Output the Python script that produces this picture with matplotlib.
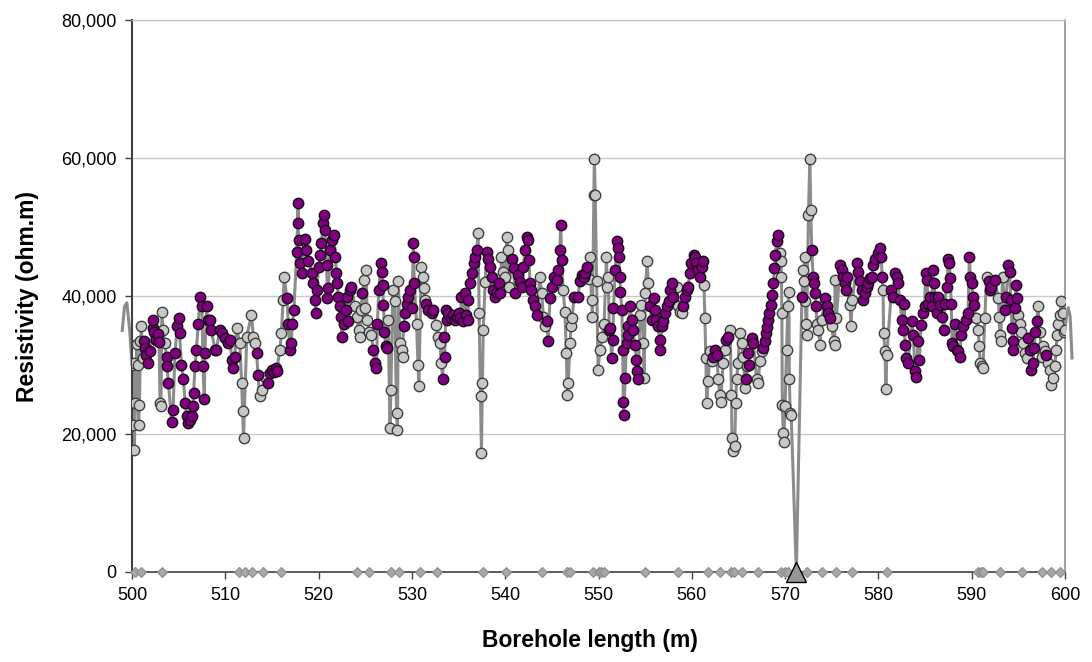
import matplotlib
matplotlib.use("Agg")
import matplotlib.pyplot as plt
import numpy as np

plt.rcParams['font.family'] = ['Liberation Sans', 'DejaVu Sans']

# depth (m), resistivity (thousand ohm.m), class (1 = purple highlighted)
depth = [
 500.0,500.1,500.2,500.25,500.35,500.5,500.6,500.7,500.8,500.9,501.0,501.15,501.3,501.4,501.5,501.75,501.9,
 502.2,502.3,502.4,502.6,502.75,502.9,503.0,503.1,503.2,503.35,503.5,503.7,503.75,503.9,504.25,504.4,504.6,
 504.85,505.0,505.1,505.3,505.5,505.7,505.85,506.0,506.2,506.4,506.5,506.6,506.75,506.9,507.1,507.3,507.5,
 507.6,507.75,507.8,508.0,508.1,508.35,508.5,508.9,509.05,509.4,509.6,510.0,510.3,510.5,510.7,510.85,511.0,
 511.2,511.55,511.75,511.85,511.95,512.3,512.8,513.0,513.2,513.35,513.5,513.7,513.9,514.25,514.6,514.8,515.0,
 515.2,515.4,515.5,515.85,516.0,516.2,516.3,516.6,516.75,516.9,517.05,517.2,517.35,
 517.65,517.75,517.8,517.85,518.0,518.2,518.5,518.7,518.9,519.3,519.4,519.6,519.7,519.8,520.0,520.2,520.3,
 520.5,520.6,520.7,520.85,520.95,521.05,521.2,521.4,521.65,521.8,521.9,522.0,522.1,522.25,522.35,522.5,522.75,
 522.9,523.0,523.1,523.35,523.5,523.9,524.1,524.3,524.4,524.55,524.7,524.9,525.0,525.1,525.2,525.45,525.65,
 525.85,526.0,526.2,526.3,526.45,526.65,526.75,526.85,526.95,527.05,527.2,527.3,527.45,527.65,527.75,527.95,
 528.15,528.35,528.45,528.55,528.7,528.9,529.0,529.1,529.25,529.45,529.6,529.8,530.0,530.15,530.2,530.25,
 530.5,530.65,530.75,531.0,531.2,531.3,531.4,531.5,531.75,532.1,532.3,532.6,532.8,533.0,533.15,533.3,533.4,
 533.5,533.65,533.8,
 533.9,534.2,534.4,534.6,534.8,535.0,535.2,535.3,535.45,535.7,535.8,536.0,536.05,536.2,536.4,536.6,536.8,
 536.95,537.1,537.2,537.35,537.45,537.55,537.65,537.85,538.0,538.2,538.4,538.55,538.7,538.9,539.1,539.3,
 539.45,539.6,539.8,540.0,540.15,540.3,540.4,540.7,540.9,541.05,541.4,541.6,541.8,541.95,542.1,542.3,542.45,
 542.55,542.65,542.8,543.0,543.2,543.4,543.7,543.9,544.1,544.3,544.45,544.6,544.8,545.0,545.2,545.5,545.7,
 545.85,545.95,546.05,546.2,546.4,546.55,546.65,546.75,546.95,547.05,547.2,547.35,547.8,548.0,548.2,548.4,
 548.55,548.75,548.95,549.1,549.25,549.35,549.5,549.55,549.65,549.8,549.95,550.15,550.4,550.6,550.85,550.95,
 551.05,
 551.15,551.25,551.4,551.55,551.6,551.8,551.95,552.05,552.15,552.3,552.35,552.5,552.6,552.65,552.7,552.85,
 553.0,553.15,553.2,553.4,553.55,553.7,553.9,554.05,554.15,554.25,554.45,554.6,554.8,554.9,555.0,555.2,555.35,
 555.5,555.7,555.9,556.05,556.2,556.4,556.55,556.6,556.8,556.95,557.1,557.3,557.5,557.65,557.85,558.0,558.4,
 558.55,558.75,558.95,559.1,559.3,559.45,559.6,559.8,559.9,560.2,560.35,560.5,560.7,560.9,561.05,561.2,561.3,
 561.4,561.5,561.6,561.75,561.95,562.15,562.3,562.5,562.65,562.85,563.0,563.1,563.35,563.55,563.7,563.9,564.1,
 564.25,564.3,564.45,564.6,564.7,564.8,564.95,565.15,565.35,565.5,565.7,565.85,565.95,566.05,566.15,566.4,
 566.6,566.95,567.1,567.3,567.5,567.65,567.85,
 568.0,568.1,568.2,568.3,568.45,568.6,568.75,568.85,568.95,569.1,569.2,569.45,569.55,569.6,569.65,569.7,569.8,
 569.85,570.0,570.15,570.3,570.4,570.45,570.55,570.65,571.2,571.8,571.95,572.0,572.1,572.15,572.25,572.3,
 572.5,572.65,572.75,572.85,573.0,573.1,573.2,573.3,573.4,573.55,573.75,573.9,574.3,574.45,574.6,574.8,575.0,
 575.2,575.3,575.35,575.5,575.9,576.05,576.25,576.4,576.5,576.6,576.95,577.05,577.2,577.7,577.85,578.0,578.2,
 578.4,578.6,578.75,578.9,579.1,579.3,579.45,579.6,579.95,580.15,580.3,580.4,580.5,580.55,580.7,580.8,580.9,
 581.4,581.6,581.8,581.95,582.1,582.3,582.5,582.65,582.75,582.85,583.0,583.2,583.55,583.75,583.9,584.05,
 584.25,584.4,584.55,584.75,584.95,585.05,585.2,585.35,585.5,585.7,585.85,585.95,586.05,586.25,586.4,586.6,
 586.8,587.0,587.1,587.3,587.5,587.6,587.7,587.8,587.9,588.0,588.2,588.4,588.55,588.7,588.9,589.1,589.4,
 589.6,589.75,589.85,590.0,590.1,590.2,590.5,590.7,590.8,590.9,591.05,591.2,591.4,591.6,591.8,591.95,592.1,
 592.5,592.85,592.95,593.0,593.1,593.3,593.55,593.7,593.9,594.05,594.2,594.3,594.4,594.45,594.6,594.75,594.9,
 595.0,595.15,595.3,595.5,595.7,595.9,596.05,596.2,596.4,596.55,596.7,596.8,596.95,597.1,597.3,597.5,597.65,
 597.85,598.0,598.2,598.4,598.55,598.7,598.9,599.05,599.15,599.3,599.45,599.6,599.75,599.9,600.0,
]
resistivity_k = [
 30.0,21.3,30.3,17.7,24.5,33.0,30.0,21.3,24.2,33.4,35.6,31.0,33.5,32.4,31.5,30.3,32.0,
 35.3,36.5,34.8,33.6,34.5,33.3,24.5,24.0,37.7,35.0,33.2,31.2,29.8,27.4,21.8,23.5,31.7,
 35.6,36.8,34.6,30.0,27.9,24.5,22.6,21.6,22.0,22.6,24.0,25.9,29.8,32.2,36.0,39.9,38.5,
 29.8,25.0,31.7,38.5,36.5,36.5,35.0,32.2,32.2,35.1,34.6,33.9,33.2,33.6,30.7,29.5,31.2,
 35.3,33.2,27.4,23.3,19.4,34.1,37.3,34.1,33.2,31.7,28.6,25.5,26.4,28.3,27.4,28.8,29.3,
 29.0,29.5,29.1,32.2,34.6,39.4,42.8,39.7,36.0,32.2,33.2,36.0,38.0,
 46.4,50.5,53.4,48.1,44.7,43.3,48.3,46.6,45.0,43.3,41.8,39.4,37.5,40.9,44.2,45.9,47.6,
 50.5,51.7,49.5,44.5,39.7,41.1,46.6,48.1,48.8,45.7,43.3,41.8,39.9,38.5,37.0,34.1,36.0,
 38.0,39.9,36.3,40.9,41.3,38.5,37.0,35.1,34.1,38.0,40.4,42.3,38.2,43.8,36.5,34.8,34.4,
 32.2,30.3,29.5,36.0,40.9,44.7,43.5,41.6,38.7,34.8,32.7,32.4,36.5,20.9,26.4,40.9,
 39.2,23.0,20.6,42.1,33.2,32.2,31.2,35.6,37.5,38.9,39.9,40.9,38.2,47.6,45.7,41.8,
 36.0,30.0,26.9,44.2,42.8,41.1,39.4,38.9,38.0,37.5,38.0,35.8,34.1,33.2,30.3,27.9,34.1,
 31.2,38.0,36.5,
 37.5,36.8,37.3,36.5,37.0,37.5,36.8,39.9,36.3,40.4,37.3,36.5,39.4,41.8,43.3,44.7,45.7,
 46.6,49.1,37.5,25.5,17.2,27.4,35.1,42.0,46.4,45.4,44.2,42.8,40.9,39.9,40.5,41.8,
 40.4,45.7,43.5,42.8,48.6,46.6,41.3,45.4,44.0,40.4,43.0,42.0,41.3,44.2,46.6,48.6,48.1,
 45.2,41.8,40.9,39.4,38.5,37.3,42.8,40.4,37.0,35.6,36.3,33.4,39.7,41.3,42.8,42.3,43.8,
 46.6,50.3,45.2,40.9,37.7,31.7,25.7,27.4,33.2,35.6,36.8,39.9,39.9,42.1,43.0,42.8,
 43.3,44.2,42.5,45.7,39.4,37.0,54.6,59.9,54.6,42.1,29.3,32.2,34.1,36.0,45.7,41.3,
 42.8,
 35.1,35.3,31.0,33.6,38.2,43.8,47.9,46.9,45.7,42.8,40.6,38.0,32.2,24.6,22.7,28.1,
 33.2,34.4,35.6,38.5,36.5,35.1,32.9,30.7,29.1,27.9,37.3,38.7,33.2,28.1,40.4,45.0,41.8,
 38.5,36.5,39.7,38.0,36.5,35.6,33.6,32.2,35.6,36.3,37.5,38.5,39.2,40.9,41.8,39.9,41.3,
 38.5,37.7,37.5,38.5,39.9,40.9,41.3,43.3,44.7,45.9,45.7,44.7,43.8,42.8,44.2,45.0,41.6,
 36.8,31.0,24.5,27.6,32.0,30.5,31.2,32.2,31.5,27.9,25.7,24.7,30.3,32.2,33.6,34.0,35.1,
 25.7,19.4,17.5,18.2,24.5,27.9,30.3,34.6,33.2,31.2,26.6,28.0,29.8,31.7,30.0,33.9,
 33.2,27.9,27.4,30.5,32.0,32.4,33.4,
 34.6,35.5,36.5,37.5,38.7,40.1,41.8,44.0,45.9,47.9,48.8,46.2,45.0,42.8,37.5,24.2,20.1,
 18.9,24.0,32.2,38.5,40.6,27.9,23.0,22.8,0.0,39.9,43.8,42.1,45.7,39.2,36.0,34.4,
 51.7,59.9,52.4,46.6,42.8,41.8,40.4,38.5,36.0,35.1,32.9,36.5,39.7,38.5,37.5,36.8,35.6,
 33.4,32.9,42.3,36.8,44.5,43.8,42.8,41.8,40.9,42.8,38.7,35.6,39.4,44.7,43.5,42.1,40.9,
 39.4,40.4,41.3,41.8,42.6,42.8,44.5,45.4,46.2,46.9,45.7,42.8,40.9,34.6,32.0,26.5,31.5,
 40.9,39.9,43.3,42.8,41.8,39.4,36.5,35.1,38.9,32.9,31.0,30.3,36.3,34.4,29.1,28.3,
 33.4,30.7,35.8,37.5,38.5,43.3,42.3,38.9,39.9,38.5,43.8,41.8,39.9,37.5,39.9,38.7,
 37.0,35.1,38.9,41.3,45.4,44.7,42.6,38.9,33.2,32.7,36.0,32.2,32.0,31.2,34.4,35.6,36.5,
 37.5,45.7,42.8,41.8,39.9,38.7,36.8,35.1,32.7,30.3,29.8,29.5,36.8,42.8,42.1,40.9,41.3,
 42.3,39.7,37.0,34.4,33.4,42.8,38.0,39.9,44.5,43.5,39.4,35.3,33.4,32.2,38.2,41.6,39.7,
 37.3,36.0,34.8,33.2,31.7,31.0,33.9,32.2,29.3,30.3,32.4,34.8,36.3,38.5,34.8,31.2,32.7,
 32.0,31.5,30.3,29.3,27.1,28.1,29.8,32.2,34.4,36.0,37.3,39.2,37.5,34.8,35.0,
]
highlight = [
 0,0,0,0,0,0,0,0,0,0,0,0,1,1,1,1,1,
 1,1,1,1,1,1,0,0,0,0,0,1,1,1,1,1,1,
 1,1,1,1,1,1,1,1,1,1,1,1,1,1,1,1,1,
 1,1,1,1,1,1,1,1,1,1,1,1,1,1,1,1,1,
 0,0,0,0,0,0,0,0,0,1,1,0,0,0,1,1,1,
 1,1,1,0,0,0,0,1,1,1,1,1,1,
 1,1,1,1,1,1,1,1,1,1,1,1,1,1,1,1,1,
 1,1,1,1,1,1,1,1,1,1,1,1,1,1,1,1,1,
 1,1,1,1,1,0,0,0,0,0,1,0,0,0,0,0,0,
 1,1,1,1,1,1,1,1,1,1,1,1,0,0,0,0,
 0,0,0,0,0,0,0,1,1,1,1,1,1,1,1,1,
 0,0,0,0,0,0,0,1,1,1,1,0,0,0,0,1,1,
 1,1,1,
 1,1,1,1,1,1,1,1,1,1,1,1,1,1,1,1,1,
 1,0,0,0,0,0,0,0,1,1,1,1,1,1,1,1,
 1,0,0,0,0,0,0,1,1,1,1,1,1,1,1,1,1,
 1,1,1,1,1,1,0,0,0,0,1,1,1,1,1,1,1,
 1,1,1,0,0,0,0,0,0,0,0,1,1,1,1,1,
 1,1,0,0,0,0,0,0,0,0,0,0,0,0,0,0,
 0,
 1,1,1,1,1,1,1,1,1,1,1,1,1,1,1,1,
 1,1,1,1,1,1,1,1,1,1,0,0,0,0,0,0,0,
 1,1,1,1,1,1,1,1,1,1,1,1,1,1,1,1,0,
 0,0,0,1,1,1,1,1,1,1,1,1,1,1,1,1,0,
 0,0,0,0,0,0,1,1,1,0,0,0,0,0,1,1,0,
 0,0,0,0,0,0,0,0,0,0,0,1,0,1,1,1,
 1,0,0,0,0,1,1,
 1,1,1,1,1,1,1,1,1,1,1,0,0,0,0,0,0,
 0,0,0,0,0,0,0,0,0,1,0,0,0,0,0,0,
 0,0,0,1,1,1,1,1,0,0,0,0,1,1,1,1,0,
 0,0,0,0,1,1,1,1,1,1,0,0,0,1,1,1,1,
 1,1,1,1,1,1,1,1,1,1,1,1,0,0,0,0,0,
 1,1,1,1,1,1,1,1,1,1,1,1,1,1,1,1,
 1,1,1,1,1,1,1,1,1,1,1,1,1,1,1,1,
 1,1,1,1,1,1,1,1,1,1,1,1,1,1,1,1,1,
 1,1,1,1,1,1,0,0,0,0,0,0,0,0,1,1,1,
 1,0,0,0,0,0,1,1,1,1,1,1,1,1,1,1,1,
 0,0,0,0,0,0,1,1,1,1,1,1,1,0,0,0,0,
 0,1,0,0,0,0,0,0,0,0,0,0,0,0,0,
]

# line continuation just outside the plotted depth range
edge_depth_left = [498.95, 499.2, 499.45, 499.75]
edge_res_left = [35.0, 38.5, 39.0, 35.0]
edge_depth_right = [600.15, 600.35, 600.55, 600.75]
edge_res_right = [37.0, 38.3, 37.0, 31.0]

# depths of zero-value markers along the axis
zero_depths = [500.3,501.0,503.2,511.5,512.1,512.9,514.0,516.0,524.1,525.4,527.75,528.6,530.9,
               532.7,537.6,540.1,543.9,546.6,546.9,549.4,550.0,550.3,550.6,555.0,558.5,561.75,
               563.0,564.25,564.5,565.4,567.1,569.6,569.95,570.3,572.35,573.9,575.4,577.2,580.9,
               590.7,591.0,591.2,593.0,595.4,597.5,598.5,599.5]
anomaly_depth = [571.2]
anomaly_value = [0.0]

x_ticks = [500, 510, 520, 530, 540, 550, 560, 570, 580, 590, 600]
y_ticks = [0, 20000, 40000, 60000, 80000]
y_tick_labels = ['0', '20,000', '40,000', '60,000', '80,000']

d = np.array(depth)
r = np.array(resistivity_k) * 1000.0
h = np.array(highlight, dtype=bool)
n = min(len(d), len(r), len(h))
d, r, h = d[:n], r[:n], h[:n]

fig = plt.figure(figsize=(10.92, 6.62), dpi=100)
ax = fig.add_axes([0.1209, 0.136, 0.8544, 0.834])

ax.set_xlim(500, 600)
ax.set_ylim(0, 80000)

for yv in y_ticks[1:]:
    ax.axhline(yv, color='#C8C8C8', lw=1.0, zorder=0)

line_kw = dict(color='#8C8C8C', lw=2.2, solid_joinstyle='round')
ax.plot(np.r_[edge_depth_left, d[:1]], np.r_[edge_res_left, r[:1] / 1000.0] * 1000.0,
        clip_on=False, zorder=2, **line_kw)
ax.plot(np.r_[d[-1:], edge_depth_right], np.r_[r[-1:] / 1000.0, edge_res_right] * 1000.0,
        clip_on=False, zorder=2, **line_kw)
ax.plot(d, r, zorder=2, **line_kw)

pos = r > 0
ax.plot(d[pos & ~h], r[pos & ~h], ls='none', marker='o', ms=7.5,
        mfc='#C8C8C8', mec='#404040', mew=1.0, zorder=3)
ax.plot(d[pos & h], r[pos & h], ls='none', marker='o', ms=7.5,
        mfc='#800080', mec='#1a0a1a', mew=1.0, zorder=4)

ax.plot(zero_depths, np.zeros(len(zero_depths)), ls='none', marker='D', ms=4.6,
        mfc='#A8A8A8', mec='#8C8C8C', mew=0.8, clip_on=False, zorder=5)
ax.plot(anomaly_depth, anomaly_value, ls='none', marker='^', ms=15,
        mfc='#969696', mec='#000000', mew=1.0, clip_on=False, zorder=6)

ax.set_xticks(x_ticks)
ax.set_yticks(y_ticks)
ax.set_yticklabels(y_tick_labels)
ax.tick_params(axis='both', direction='out', length=5, width=1.0, color='#404040',
               labelsize=13, labelcolor='black')
ax.tick_params(axis='x', pad=6)
ax.tick_params(axis='y', pad=6)

ax.spines['left'].set_color('#404040')
ax.spines['left'].set_linewidth(1.5)
ax.spines['bottom'].set_color('#404040')
ax.spines['bottom'].set_linewidth(1.2)
ax.spines['right'].set_color('#909090')
ax.spines['right'].set_linewidth(1.2)
ax.spines['top'].set_color('#C8C8C8')
ax.spines['top'].set_linewidth(1.0)

fig.text(0.540, 1 - 640 / 662, 'Borehole length (m)', fontsize=16.5, fontweight='bold',
         ha='center', va='center')
fig.text(28 / 1092, 1 - 296 / 662, 'Resistivity (ohm.m)', fontsize=16.5, fontweight='bold',
         ha='center', va='center', rotation=90)

fig.savefig('out.png', dpi=100)
